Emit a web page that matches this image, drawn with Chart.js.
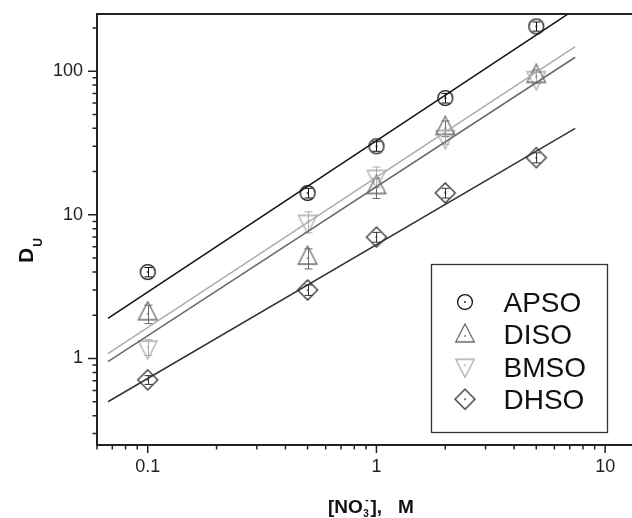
<!DOCTYPE html>
<html>
<head>
<meta charset="utf-8">
<script src="https://cdn.jsdelivr.net/npm/chart.js@4.4.1/dist/chart.umd.min.js"></script>
<style>
html,body{margin:0;padding:0;background:#fff;}
#wrap{width:632px;height:518px;position:relative;}
</style>
</head>
<body>
<div id="wrap"><canvas id="c"></canvas></div>
<script>
// ---- data ----
const concentrations = [0.1, 0.5, 1, 2, 5];
const seriesNames = ['APSO', 'DISO', 'BMSO', 'DHSO'];
const apsoValues = [4.0, 14.2, 30, 65, 205];
const apsoErrors = [0.3, 1.1, 2.3, 5, 15];
const disoValues = [2.05, 5.0, 15.5, 40, 92];
const disoErrors = [0.3, 0.8, 2.5, 5, 10];
const bmsoValues = [1.2, 9.0, 18.5, 35, 90];
const bmsoErrors = [0.15, 1.5, 3.0, 4, 8];
const dhsoValues = [0.71, 3.0, 7.0, 14.2, 25];
const dhsoErrors = [0.05, 0.25, 0.55, 1.1, 2.0];
// fitted straight lines (end points)
const fitRange = [0.067, 7.4];
const apsoFit = [1.9, 270];
const disoFit = [0.95, 125];
const bmsoFit = [1.08, 148];
const dhsoFit = [0.50, 40];
// axes
const xTickValues = [0.06,0.07,0.08,0.09,0.1,0.2,0.3,0.4,0.5,0.6,0.7,0.8,0.9,1,2,3,4,5,6,7,8,9,10];
const xTickLabels = ['0.1', '1', '10'];
const yTickValues = [0.3,0.4,0.5,0.6,0.7,0.8,0.9,1,2,3,4,5,6,7,8,9,10,20,30,40,50,60,70,80,90,100,200];
const yTickLabels = ['1', '10', '100'];
const xRange = [0.06, 11.85];
const yRange = [0.25, 250];

// ---- styles ----
const colors = {APSO:'#111111', DISO:'#6a6a6a', BMSO:'#acacac', DHSO:'#333333'};
const shapes = {APSO:'circle', DISO:'triUp', BMSO:'triDown', DHSO:'diamond'};

function makeMarker(shape, color) {
  const c = document.createElement('canvas');
  c.width = 26; c.height = 26;
  const g = c.getContext('2d');
  const cx = 13, cy = 13;
  g.strokeStyle = color; g.fillStyle = color; g.lineWidth = 1.3;
  g.beginPath();
  if (shape === 'circle') {
    g.arc(cx, cy, 7.4, 0, Math.PI * 2);
  } else if (shape === 'triUp') {
    g.moveTo(cx, cy - 12); g.lineTo(cx + 9.3, cy + 6); g.lineTo(cx - 9.3, cy + 6); g.closePath();
  } else if (shape === 'triDown') {
    g.moveTo(cx, cy + 12); g.lineTo(cx + 9.3, cy - 6); g.lineTo(cx - 9.3, cy - 6); g.closePath();
  } else if (shape === 'diamond') {
    g.moveTo(cx, cy - 10); g.lineTo(cx + 10, cy); g.lineTo(cx, cy + 10); g.lineTo(cx - 10, cy); g.closePath();
  }
  g.stroke();
  g.fillRect(cx - 0.8, cy - 0.8, 1.6, 1.6);
  return c;
}

const seriesValues = {APSO: apsoValues, DISO: disoValues, BMSO: bmsoValues, DHSO: dhsoValues};
const seriesErrors = {APSO: apsoErrors, DISO: disoErrors, BMSO: bmsoErrors, DHSO: dhsoErrors};
const seriesFits = {APSO: apsoFit, DISO: disoFit, BMSO: bmsoFit, DHSO: dhsoFit};

const datasets = [];
seriesNames.forEach(name => {
  datasets.push({
    type: 'line',
    label: name + ' fit',
    data: fitRange.map((x, i) => ({x: x, y: seriesFits[name][i]})),
    borderColor: colors[name],
    borderWidth: 1.5,
    pointRadius: 0,
    showLine: true,
    fill: false,
    isFit: true
  });
});
seriesNames.forEach(name => {
  const marker = makeMarker(shapes[name], colors[name]);
  datasets.push({
    type: 'scatter',
    label: name,
    data: concentrations.map((x, i) => ({x: x, y: seriesValues[name][i]})),
    errors: seriesErrors[name],
    pointStyle: marker,
    pointRadius: 9,
    borderColor: colors[name],
    backgroundColor: 'rgba(0,0,0,0)',
    showLine: false,
    markerColor: colors[name]
  });
});

const errorBarPlugin = {
  id: 'errorBars',
  beforeDatasetsDraw(chart) {
    const ctx = chart.ctx, xs = chart.scales.x, ys = chart.scales.y;
    chart.data.datasets.forEach(ds => {
      if (!ds.errors) return;
      ctx.save();
      ctx.strokeStyle = ds.markerColor; ctx.lineWidth = 1;
      ds.data.forEach((p, i) => {
        const e = ds.errors[i];
        const px = Math.round(xs.getPixelForValue(p.x)) + 0.5;
        const yTop = ys.getPixelForValue(p.y + e);
        const yBot = ys.getPixelForValue(p.y - e);
        ctx.beginPath();
        ctx.moveTo(px, yTop); ctx.lineTo(px, yBot);
        ctx.moveTo(px - 4, yTop); ctx.lineTo(px + 4, yTop);
        ctx.moveTo(px - 4, yBot); ctx.lineTo(px + 4, yBot);
        ctx.stroke();
      });
      ctx.restore();
    });
  }
};

const frameAndTicksPlugin = {
  id: 'frameTicks',
  afterDraw(chart) {
    const ctx = chart.ctx, a = chart.chartArea;
    const xs = chart.scales.x, ys = chart.scales.y;
    ctx.save();
    ctx.strokeStyle = '#222';
    // ticks
    ctx.lineWidth = 1.5;
    ctx.beginPath();
    xs.ticks.forEach(t => {
      const px = xs.getPixelForValue(t.value);
      const len = xTickLabels.includes(String(t.value)) ? 8 : 4.5;
      ctx.moveTo(px, a.bottom); ctx.lineTo(px, a.bottom + len);
    });
    ys.ticks.forEach(t => {
      const py = ys.getPixelForValue(t.value);
      const len = yTickLabels.includes(String(t.value)) ? 9 : 4.5;
      ctx.moveTo(a.left, py); ctx.lineTo(a.left - len, py);
    });
    ctx.stroke();
    // frame: left, bottom, top
    ctx.lineWidth = 2;
    ctx.beginPath();
    ctx.moveTo(a.left, a.top); ctx.lineTo(a.left, a.bottom + 1);
    ctx.moveTo(a.left - 1, a.bottom); ctx.lineTo(chart.width, a.bottom);
    ctx.moveTo(a.left - 1, a.top); ctx.lineTo(chart.width, a.top);
    ctx.stroke();

    // axis titles
    ctx.fillStyle = '#111';
    ctx.textAlign = 'left';
    ctx.textBaseline = 'alphabetic';
    // y title: D with subscript U, rotated
    ctx.save();
    ctx.translate(33, 263);
    ctx.rotate(-Math.PI / 2);
    ctx.font = 'bold 21px "Liberation Sans", Arial, sans-serif';
    ctx.fillText('D', 0, 0);
    const dW = ctx.measureText('D').width;
    ctx.font = 'bold 12px "Liberation Sans", Arial, sans-serif';
    ctx.fillText('U', dW + 1, 9);
    ctx.restore();
    // x title: [NO3-], M
    const bx = 328, by = 513;
    ctx.font = 'bold 19px "Liberation Sans", Arial, sans-serif';
    ctx.fillText('[NO', bx, by);
    const w1 = ctx.measureText('[NO').width;
    ctx.font = 'bold 10px "Liberation Sans", Arial, sans-serif';
    ctx.fillText('3', bx + w1 + 0.5, by + 4);
    ctx.fillText('-', bx + w1 + 2.5, by - 10);
    const w2 = ctx.measureText('3').width;
    ctx.font = 'bold 19px "Liberation Sans", Arial, sans-serif';
    ctx.fillText('],', bx + w1 + w2 + 2, by);
    ctx.fillText('M', 398, by);

    // legend
    const lx = 431, ly = 264, lw = 176, lh = 168;
    ctx.fillStyle = '#fff';
    ctx.fillRect(lx, ly, lw, lh);
    ctx.strokeStyle = '#333'; ctx.lineWidth = 1.3;
    ctx.strokeRect(lx + 0.5, ly + 0.5, lw, lh);
    const entries = chart.data.datasets.filter(d => !d.isFit);
    ctx.font = '28px "Liberation Sans", Arial, sans-serif';
    ctx.fillStyle = '#111';
    entries.forEach((d, i) => {
      const cy = 302 + i * 32.4;
      const img = d.pointStyle;
      ctx.drawImage(img, 465 - img.width / 2, cy - img.height / 2 + (i === 1 ? 1.5 : (i === 2 ? -1.5 : 0)));
      ctx.fillText(d.label, 503.5, cy + 10);
    });
    ctx.restore();
  }
};

new Chart(document.getElementById('c'), {
  data: {datasets: datasets},
  options: {
    responsive: true,
    maintainAspectRatio: false,
    animation: false,
    devicePixelRatio: 1,
    layout: {padding: {top: 14, right: 0, bottom: 0, left: 0}},
    plugins: {legend: {display: false}, tooltip: {enabled: false}, title: {display: false}},
    scales: {
      x: {
        type: 'logarithmic',
        position: 'bottom',
        min: xRange[0], max: xRange[1],
        afterBuildTicks: s => { s.ticks = xTickValues.map(v => ({value: v})); },
        afterFit: s => { s.height = 73; },
        border: {display: false},
        grid: {display: true, drawOnChartArea: false, drawTicks: true, tickLength: 11, tickColor: 'rgba(0,0,0,0)', color: 'rgba(0,0,0,0)'},
        ticks: {
          autoSkip: false, maxRotation: 0, padding: 0, color: '#222',
          font: {family: '"Liberation Sans", Arial, sans-serif', size: 18},
          callback: v => xTickLabels.includes(String(v)) ? String(v) : ''
        }
      },
      y: {
        type: 'logarithmic',
        position: 'left',
        min: yRange[0], max: yRange[1],
        afterBuildTicks: s => { s.ticks = yTickValues.map(v => ({value: v})); },
        afterFit: s => { s.width = 97; },
        border: {display: false},
        grid: {display: true, drawOnChartArea: false, drawTicks: true, tickLength: 14, tickColor: 'rgba(0,0,0,0)', color: 'rgba(0,0,0,0)'},
        ticks: {
          autoSkip: false, padding: 0, color: '#222',
          font: {family: '"Liberation Sans", Arial, sans-serif', size: 18},
          callback: v => yTickLabels.includes(String(v)) ? String(v) : ''
        }
      }
    }
  },
  plugins: [errorBarPlugin, frameAndTicksPlugin]
});
</script>
</body>
</html>
